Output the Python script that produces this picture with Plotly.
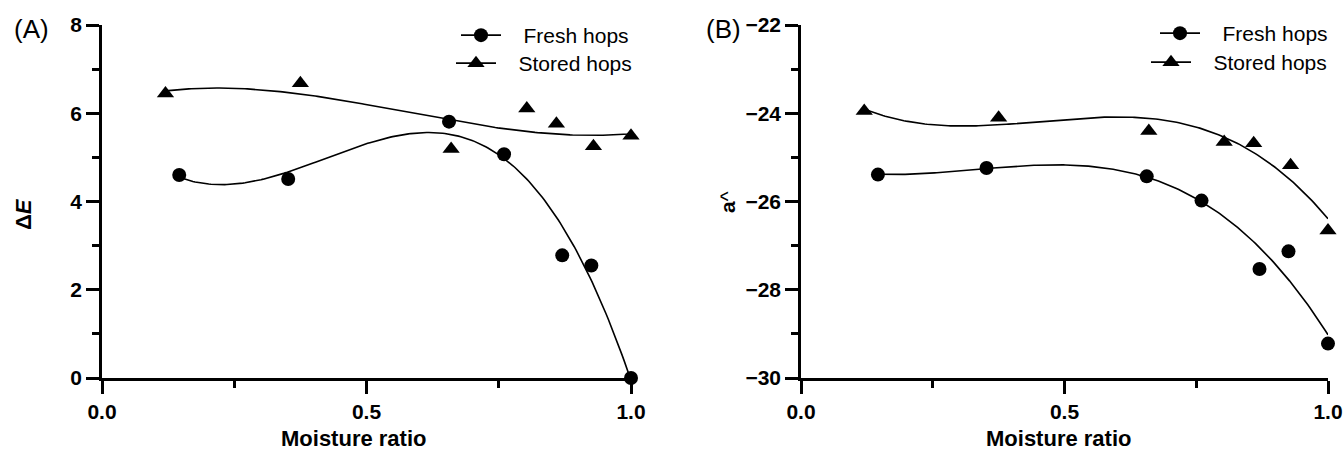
import numpy as np
import plotly.graph_objects as go

# ---- data ----
fresh_x = [0.146, 0.352, 0.656, 0.760, 0.870, 0.925, 1.000]
stored_x = [0.120, 0.375, 0.660, 0.803, 0.859, 0.929, 1.000]

fresh_dE = [4.60, 4.51, 5.81, 5.07, 2.78, 2.55, 0.00]
stored_dE = [6.45, 6.68, 5.19, 6.11, 5.76, 5.25, 5.49]

fresh_a = [-25.39, -25.24, -25.43, -25.98, -27.53, -27.13, -29.22]
stored_a = [-23.95, -24.10, -24.40, -24.65, -24.68, -25.18, -26.66]

x_ticks = [0.0, 0.5, 1.0]
dE_ticks = [0, 2, 4, 6, 8]
a_ticks = [-30, -28, -26, -24, -22]

series_names = ["Fresh hops", "Stored hops"]
FIT_ORDER = 3

W, H = 1343, 452
FONT = "Liberation Sans, Arial, sans-serif"
NBSP = "\u00a0" * 3


def fit_curve(x, y, order=FIT_ORDER):
    coef = np.polyfit(x, y, order)
    xs = np.linspace(min(x), max(x), 200)
    return xs, np.polyval(coef, xs)


fig = go.Figure()

panels = [
    ("x", "y", fresh_dE, stored_dE, ("legend", "legend2")),
    ("x2", "y2", fresh_a, stored_a, ("legend3", "legend4")),
]
for xa, ya, fy, sy, lgs in panels:
    for name, xs, ys, sym, msz, lg in [
        (series_names[0], fresh_x, fy, "circle", 14, lgs[0]),
        (series_names[1], stored_x, sy, "triangle-up", 15, lgs[1]),
    ]:
        cx, cy = fit_curve(xs, ys)
        fig.add_trace(go.Scatter(x=cx, y=cy, mode="lines", xaxis=xa, yaxis=ya,
                                 line=dict(color="black", width=1.6),
                                 showlegend=False, hoverinfo="skip"))
        fig.add_trace(go.Scatter(x=xs, y=ys, mode="markers", xaxis=xa, yaxis=ya,
                                 marker=dict(symbol=sym, size=msz, color="black"),
                                 cliponaxis=False, showlegend=False))
        fig.add_trace(go.Scatter(x=[None], y=[None], mode="lines+markers",
                                 xaxis=xa, yaxis=ya, name=NBSP + name, legend=lg,
                                 line=dict(color="black", width=1.6),
                                 marker=dict(symbol=sym, size=msz, color="black")))

tickfont = dict(family=FONT, size=21, color="black", weight="bold")
common_axis = dict(showline=True, linewidth=2.5, linecolor="black",
                   ticks="outside", ticklen=13, tickwidth=2.5, tickcolor="black",
                   showgrid=False, zeroline=False, tickfont=tickfont)

xcommon = dict(common_axis, range=[0, 1.0], tickvals=x_ticks,
               tickformat=".1f",
               minor=dict(ticks="outside", ticklen=7, tickwidth=2.5,
                          tickcolor="black", dtick=0.25, showgrid=False))


def leg(xpx, ypx):
    return dict(x=xpx / W, y=1 - ypx / H, xanchor="left", yanchor="top",
                bgcolor="rgba(0,0,0,0)", font=dict(family=FONT, size=21),
                itemwidth=40, tracegroupgap=0)


fig.update_layout(
    width=W, height=H,
    margin=dict(l=0, r=0, t=0, b=0, autoexpand=False),
    paper_bgcolor="white", plot_bgcolor="white",
    font=dict(family=FONT, color="black"),
    xaxis=dict(xcommon, domain=[102 / W, 631 / W], anchor="y"),
    xaxis2=dict(xcommon, domain=[801 / W, 1328 / W], anchor="y2"),
    yaxis=dict(common_axis, range=[0, 8], tickvals=dE_ticks,
               domain=[1 - 378 / H, 1 - 25 / H], anchor="x",
               minor=dict(ticks="outside", ticklen=7, tickwidth=2.5,
                          tickcolor="black", dtick=1, showgrid=False)),
    yaxis2=dict(common_axis, range=[-30, -22], tickvals=a_ticks,
                domain=[1 - 378 / H, 1 - 25 / H], anchor="x2",
                minor=dict(ticks="outside", ticklen=7, tickwidth=2.5,
                           tickcolor="black", dtick=1, showgrid=False)),
    legend=leg(456, 15),
    legend2=leg(451, 43),
    legend3=leg(1155, 13),
    legend4=leg(1146, 42),
)

ann = []


def add_text(text, xpx, ypx, size, angle=0):
    ann.append(dict(text=text, x=xpx / W, y=1 - ypx / H, xref="paper",
                    yref="paper", xanchor="center", yanchor="middle",
                    showarrow=False, textangle=angle,
                    font=dict(family=FONT, size=size, color="black")))


add_text("(A)", 31, 29, 26)
add_text("(B)", 723, 29, 26)
add_text("<b>Δ<i>E</i></b>", 24, 214, 22, -90)
add_text("<b>a</b>^", 728, 202, 21, -90)
add_text("<b>Moisture ratio</b>", 354, 438, 22)
add_text("<b>Moisture ratio</b>", 1058, 438, 22)
fig.update_layout(annotations=ann)

fig.write_html("out.html")
